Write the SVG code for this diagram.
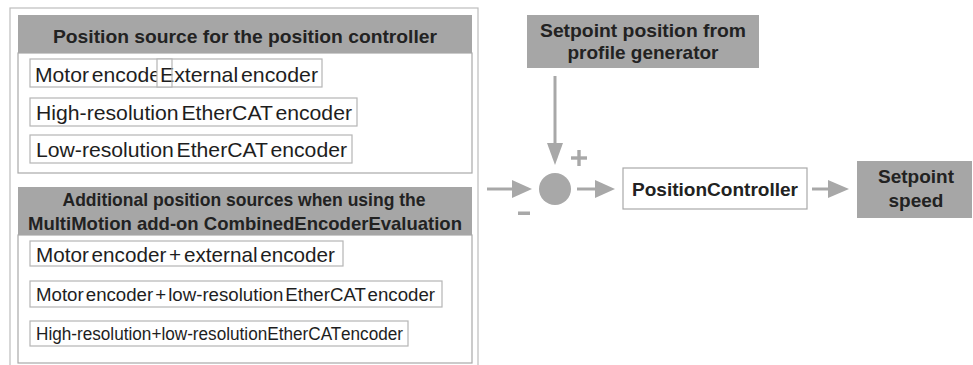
<svg xmlns="http://www.w3.org/2000/svg" width="973" height="365" viewBox="0 0 973 365">
<style>
  .hdr { fill: #a6a6a6; }
  .body { fill: #ffffff; stroke: #a9a9a9; stroke-width: 1.2; }
  .item { fill: #ffffff; stroke: #b5b5b5; stroke-width: 1.2; }
  .ht { font-family: "Liberation Sans", Arial, sans-serif; font-weight: bold; font-size: 19px; fill: #222222; }
  .it { font-family: "Liberation Sans", Arial, sans-serif; font-size: 21px; fill: #1e1e1e; word-spacing: -3px; }
  .its { font-family: "Liberation Sans", Arial, sans-serif; font-size: 18px; fill: #1e1e1e; word-spacing: -3px; }
  .ln { stroke: #a8a8a8; stroke-width: 3; fill: none; }
  .ah { fill: #a8a8a8; }
</style>
<rect width="973" height="365" fill="#ffffff"/>
<g id="frame">
  <rect x="10" y="8" width="468" height="380" fill="none" stroke="#bdbdbd" stroke-width="1.2"/>
</g>
<g id="panel-position-source">
  <rect class="body" x="18" y="53" width="454" height="120"/>
  <rect class="hdr" x="18" y="15" width="454" height="38"/>
  <text class="ht" x="245" y="43" text-anchor="middle" textLength="384" lengthAdjust="spacingAndGlyphs">Position source for the position controller</text>
  <g id="item-motor-encoder">
    <rect class="item" x="30" y="59" width="142" height="28"/>
    <text class="it" x="35" y="82" textLength="133" lengthAdjust="spacingAndGlyphs">Motor encoder</text>
  </g>
  <g id="item-external-encoder">
    <rect class="item" x="157" y="59" width="165" height="28"/>
    <text class="it" x="160" y="82" textLength="158" lengthAdjust="spacingAndGlyphs">External encoder</text>
    <line x1="172" y1="59" x2="172" y2="87" stroke="#b5b5b5" stroke-width="1.2"/>
  </g>
  <g id="item-high-res">
    <rect class="item" x="30" y="98" width="327" height="28"/>
    <text class="it" x="36" y="120" textLength="316" lengthAdjust="spacingAndGlyphs">High-resolution EtherCAT encoder</text>
  </g>
  <g id="item-low-res">
    <rect class="item" x="30" y="135" width="322" height="28"/>
    <text class="it" x="36" y="157" textLength="311" lengthAdjust="spacingAndGlyphs">Low-resolution EtherCAT encoder</text>
  </g>
</g>
<g id="panel-additional-sources">
  <rect class="body" x="18" y="235" width="454" height="128"/>
  <rect class="hdr" x="18" y="187" width="454" height="48"/>
  <text class="ht" x="244" y="206" text-anchor="middle" textLength="363" lengthAdjust="spacingAndGlyphs">Additional position sources when using the</text>
  <text class="ht" x="245" y="230" text-anchor="middle" textLength="434" lengthAdjust="spacingAndGlyphs">MultiMotion add-on CombinedEncoderEvaluation</text>
  <g id="item-motor-external">
    <rect class="item" x="30" y="241" width="313" height="25"/>
    <text class="it" x="36" y="262" textLength="299" lengthAdjust="spacingAndGlyphs">Motor encoder + external encoder</text>
  </g>
  <g id="item-motor-low-res">
    <rect class="item" x="30" y="281" width="412" height="26"/>
    <text class="its" x="36" y="301" textLength="399" lengthAdjust="spacingAndGlyphs">Motor encoder + low-resolution EtherCAT encoder</text>
  </g>
  <g id="item-high-low-res">
    <rect class="item" x="30" y="321" width="378" height="25"/>
    <text class="its" x="36" y="340" textLength="367" lengthAdjust="spacingAndGlyphs" style="word-spacing:-5px">High-resolution + low-resolution EtherCAT encoder</text>
  </g>
</g>
<g id="setpoint-position">
  <rect class="hdr" x="527" y="15" width="232" height="53"/>
  <text class="ht" x="643" y="37" text-anchor="middle" textLength="206" lengthAdjust="spacingAndGlyphs">Setpoint position from</text>
  <text class="ht" x="643" y="59" text-anchor="middle">profile generator</text>
</g>
<g id="summing-point">
  <circle cx="555" cy="189" r="16" fill="#a8a8a8"/>
  <rect x="571" y="156.3" width="16" height="3.4" fill="#a8a8a8"/>
  <rect x="577.3" y="150" width="3.4" height="16" fill="#a8a8a8"/>
  <rect x="518" y="211.5" width="12" height="3.5" fill="#a8a8a8"/>
</g>
<g id="position-controller">
  <rect x="623" y="168" width="184" height="41" fill="#ffffff" stroke="#a9a9a9" stroke-width="1.2"/>
  <text class="ht" x="715" y="196" text-anchor="middle" textLength="166" lengthAdjust="spacingAndGlyphs">PositionController</text>
</g>
<g id="setpoint-speed">
  <rect class="hdr" x="857" y="161" width="115" height="57"/>
  <text class="ht" x="916" y="183" text-anchor="middle">Setpoint</text>
  <text class="ht" x="916" y="207" text-anchor="middle">speed</text>
</g>
<g id="connectors">
  <line class="ln" x1="555" y1="76" x2="555" y2="145"/>
  <polygon class="ah" points="547,143 563,143 555,165"/>
  <line class="ln" x1="487" y1="189" x2="514" y2="189"/>
  <polygon class="ah" points="512,180 512,198 532,189"/>
  <line class="ln" x1="577" y1="189" x2="597" y2="189"/>
  <polygon class="ah" points="595,180 595,198 615,189"/>
  <line class="ln" x1="812" y1="189" x2="830" y2="189"/>
  <polygon class="ah" points="828,180 828,198 849,189"/>
</g>
</svg>
